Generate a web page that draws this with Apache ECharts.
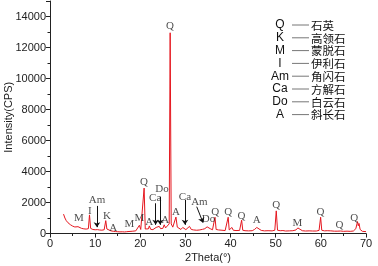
<!DOCTYPE html>
<html>
<head>
<meta charset="utf-8">
<script src="https://cdn.jsdelivr.net/npm/echarts@6/dist/echarts.min.js"></script>
<style>
  html, body { margin: 0; padding: 0; background: #fff; }
  #main { width: 378px; height: 266px; }
</style>
</head>
<body>
<div id="main"></div>
<script>
// XRD 图谱 数据 [2Theta, Intensity]
const pattern = [
  [3.0, 1250], [3.3, 1000], [3.6, 830], [4.0, 690], [4.5, 570], [5.0, 480], [5.5, 420], [5.9, 390],
  [6.2, 440], [6.5, 370], [7.0, 330], [7.5, 300], [8.0, 285], [8.5, 310], [8.75, 1200], [9.0, 330],
  [9.5, 260], [10.0, 240], [10.5, 250], [11.0, 225], [11.5, 215], [12.0, 240], [12.35, 830], [12.6, 290],
  [13.0, 210], [13.5, 170], [14.0, 145], [14.5, 125], [15.0, 115], [15.5, 105], [16.0, 110], [16.5, 100],
  [17.0, 115], [17.5, 130], [17.8, 240], [18.2, 145], [18.6, 140], [19.0, 170], [19.4, 230], [19.8, 530],
  [20.1, 260], [20.5, 260], [20.85, 2930], [21.1, 290], [21.5, 260], [21.8, 300], [22.0, 490], [22.3, 270],
  [22.8, 250], [23.2, 290], [23.5, 390], [23.8, 270], [24.2, 460], [24.5, 310], [25.0, 330], [25.3, 560],
  [25.6, 360], [26.0, 390], [26.4, 620], [26.62, 12950], [26.85, 620], [27.2, 410], [27.5, 430], [27.9, 1060],
  [28.2, 410], [28.6, 310], [29.0, 260], [29.4, 390], [29.7, 270], [30.1, 250], [30.5, 310], [30.9, 460],
  [31.3, 260], [31.8, 230], [32.5, 210], [33.2, 230], [33.8, 270], [34.3, 310], [34.8, 430], [35.1, 470],
  [35.5, 310], [36.0, 240], [36.3, 280], [36.55, 1050], [36.8, 260], [37.3, 230], [37.7, 310], [38.1, 210],
  [38.8, 190], [39.2, 210], [39.47, 1050], [39.7, 230], [40.0, 220], [40.3, 390], [40.6, 210], [41.2, 190],
  [42.0, 200], [42.45, 860], [42.7, 210], [43.2, 180], [44.0, 170], [44.8, 180], [45.3, 260], [45.5, 340],
  [45.8, 390], [46.2, 290], [46.8, 200], [47.5, 170], [48.3, 180], [49.2, 170], [49.8, 210], [50.12, 1460],
  [50.4, 210], [51.0, 180], [51.6, 190], [52.2, 160], [53.0, 170], [53.8, 180], [54.5, 230], [54.9, 360],
  [55.3, 270], [55.9, 180], [56.6, 160], [57.4, 170], [58.2, 160], [59.0, 160], [59.6, 200], [59.95, 1050],
  [60.2, 210], [60.8, 170], [61.4, 180], [61.8, 260], [62.2, 170], [63.0, 150], [63.6, 150], [64.0, 250],
  [64.4, 160], [65.0, 140], [65.8, 150], [66.5, 140], [67.2, 160], [67.75, 310], [68.12, 770], [68.3, 500],
  [68.45, 650], [68.7, 260], [69.2, 140], [69.6, 130], [70.0, 120]
]

// 峰标注 [2Theta, Intensity, 矿物代号]
const peakLabels = [
  [6.4, 970, 'M'], [8.8, 1450, 'I'], [10.4, 2130, 'Am'], [12.6, 1140, 'K'], [14.0, 320, 'A'],
  [17.6, 600, 'M'], [19.8, 970, 'M'], [20.8, 3300, 'Q'], [22.0, 750, 'A'], [23.3, 2300, 'Ca'],
  [24.8, 2860, 'Do'], [25.5, 850, 'A'], [27.9, 1400, 'A'], [29.9, 2360, 'Ca'], [33.1, 2040, 'Am'],
  [35.1, 900, 'Do'], [36.6, 1400, 'Q'], [39.5, 1400, 'Q'], [42.4, 1100, 'Q'], [45.8, 840, 'A'],
  [50.1, 1800, 'Q'], [54.8, 700, 'M'], [59.9, 1400, 'Q'], [64.1, 550, 'Q'], [67.4, 1000, 'Q'],
  [26.6, 13400, 'Q']
]

// 箭头 [x1, y1, x2, y2]
const arrows = [
  [10.4, 1780, 10.4, 410],
  [23.4, 1950, 23.4, 560],
  [24.4, 2370, 24.4, 560],
  [29.9, 2170, 29.9, 560],
  [32.5, 1730, 33.9, 700]
]

const legendCodes = ['Q', 'K', 'M', 'I', 'Am', 'Ca', 'Do', 'A']
const legendNames = ['石英', '高领石', '蒙脱石', '伊利石', '角闪石', '方解石', '白云石', '斜长石']

const xTicks = { min: 0, max: 70, interval: 10 }
const yTicks = { min: 0, max: 15000, interval: 2000 }

const chart = echarts.init(document.getElementById('main'), null, { renderer: 'canvas' })

//图例 文字
function buildLegend() {
  let items = []
  legendCodes.forEach((code, i) => {
    let y = 25 + i * 12.8
    items.push({
      type: 'text', x: 280, y: y,
      style: { text: code, font: '12px "Liberation Sans"', fill: '#111', align: 'center', verticalAlign: 'middle' }
    })
    items.push({
      type: 'line', shape: { x1: 292, y1: y, x2: 309, y2: y },
      style: { stroke: '#777', lineWidth: 1 }
    })
    items.push({
      type: 'text', x: 311, y: y + 0.5,
      style: { text: legendNames[i], font: '11.5px "Noto Sans CJK SC"', fill: '#111', verticalAlign: 'middle' }
    })
  })
  return items
}

const axisFont = { fontFamily: 'Liberation Sans', fontSize: 11, color: '#222' }

const option = {
  animation: false,
  grid: { left: 50, right: 12, top: 1, bottom: 32.5, containLabel: false, outerBoundsMode: 'none' },
  xAxis: {
    type: 'value',
    min: xTicks.min, max: xTicks.max, interval: xTicks.interval,
    name: '2Theta(°)', nameLocation: 'middle', nameGap: 19, nameMoveOverlap: false,
    nameTextStyle: { fontFamily: 'Liberation Sans', fontSize: 11, color: '#222' },
    axisLine: { lineStyle: { color: '#222', width: 1 } },
    axisTick: { length: 4, lineStyle: { color: '#222' } },
    minorTick: { show: true, splitNumber: 2, length: 2.5, lineStyle: { color: '#222' } },
    axisLabel: Object.assign({ margin: 5 }, axisFont),
    splitLine: { show: false }
  },
  yAxis: {
    type: 'value',
    min: yTicks.min, max: yTicks.max, interval: yTicks.interval,
    name: 'Intensity(CPS)', nameLocation: 'middle', nameGap: 36, nameMoveOverlap: false,
    nameTextStyle: { fontFamily: 'Liberation Sans', fontSize: 11, color: '#222' },
    axisLine: { show: true, lineStyle: { color: '#222', width: 1 } },
    axisTick: { show: true, length: 4, lineStyle: { color: '#222' } },
    minorTick: { show: true, splitNumber: 2, length: 2.5, lineStyle: { color: '#222' } },
    axisLabel: Object.assign({ margin: 4, showMaxLabel: false, formatter: v => String(v) }, axisFont),
    splitLine: { show: false }
  },
  series: [
    {
      type: 'line',
      data: pattern,
      showSymbol: false,
      lineStyle: { color: '#e5161e', width: 1 },
      silent: true,
      z: 3
    },
    {
      // 峰标注
      type: 'scatter',
      data: peakLabels.map(p => ({ value: [p[0], p[1]], name: p[2] })),
      symbolSize: 0,
      silent: true,
      label: {
        show: true, position: 'inside',
        formatter: p => p.name,
        fontFamily: 'Liberation Serif', fontSize: 11, color: '#222'
      },
      markLine: {
        silent: true,
        symbol: ['none', 'arrow'],
        symbolSize: 5,
        label: { show: false },
        lineStyle: { color: '#111', width: 1, type: 'solid' },
        data: arrows.map(a => [{ coord: [a[0], a[1]] }, { coord: [a[2], a[3]] }])
      },
      z: 4
    }
  ],
  graphic: buildLegend()
}

chart.setOption(option)
</script>
</body>
</html>
